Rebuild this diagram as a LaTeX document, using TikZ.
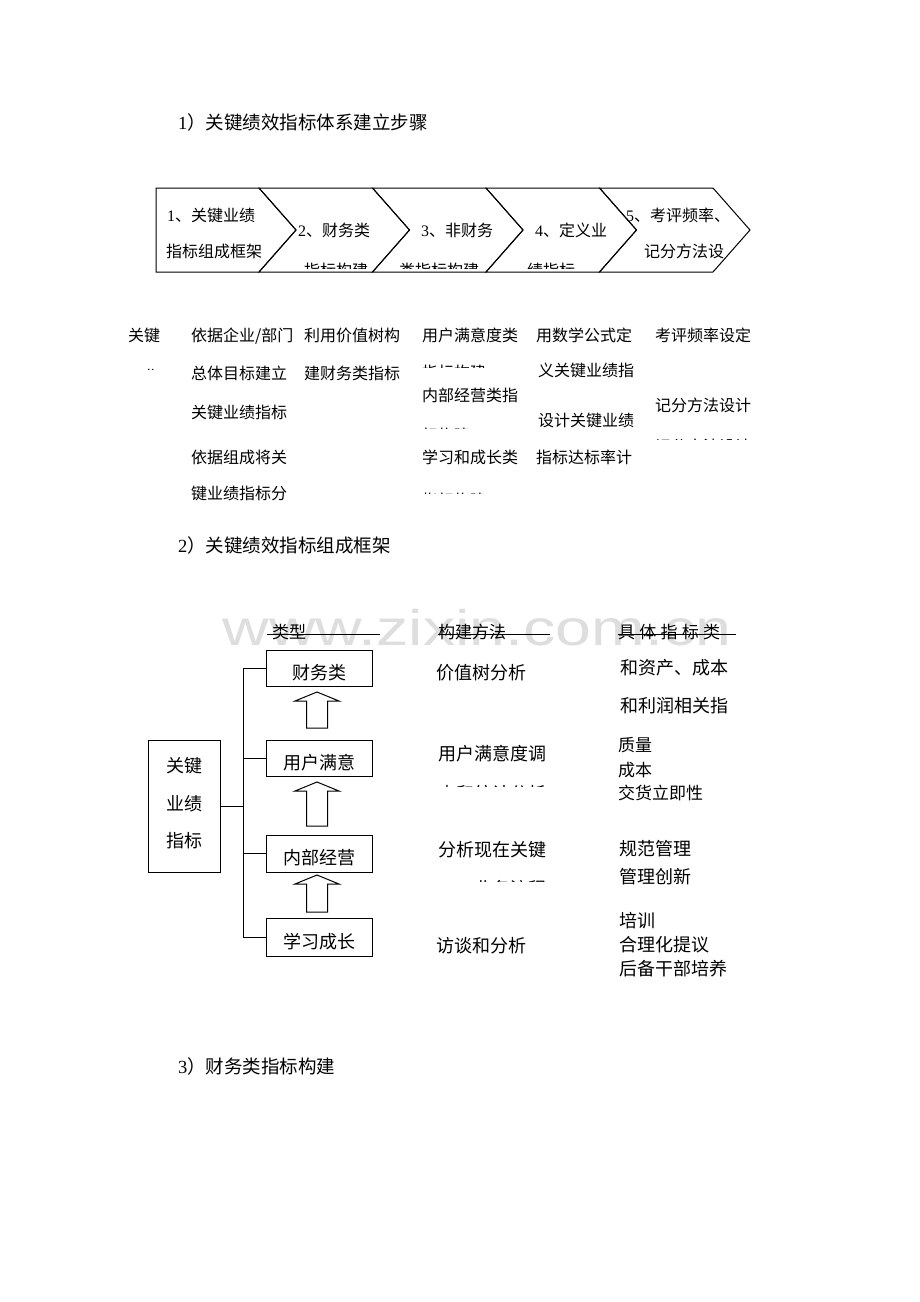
\documentclass[tikz,border=0pt]{standalone}
\usepackage{fontspec}
\setmainfont{Liberation Serif}
\newfontfamily\cjk{Noto Sans CJK SC}
\newfontfamily\cjkwide{Noto Sans CJK SC}[LetterSpace=25]
\newfontfamily\wmfont{Liberation Sans}
\newcommand\dg[1]{{\rmfamily #1}}
\newcommand\blockup[3]{\draw[ln] (#1,#2) -- (#1+22,#2+9) -- (#1+10.5,#2+9) -- (#1+10.5,#3) -- (#1-10.5,#3) -- (#1-10.5,#2+9) -- (#1-22,#2+9) -- cycle;}
\tikzset{
  ln/.style={line width=1pt, black, line join=miter},
  t16/.style={inner sep=0pt, anchor=base west, font=\cjk\fontsize{16pt}{19pt}\selectfont},
  t17/.style={inner sep=0pt, anchor=base west, font=\cjk\fontsize{17pt}{20pt}\selectfont},
  t18/.style={inner sep=0pt, anchor=base west, font=\cjk\fontsize{18pt}{21pt}\selectfont},
  ttl/.style={inner sep=0pt, anchor=base west, font=\cjk\fontsize{18.5pt}{22pt}\selectfont},
  kbox/.style={draw, line width=1pt, inner sep=0pt, minimum width=106pt, font=\cjk\fontsize{18pt}{21pt}\selectfont, text height=23.6pt, text depth=0pt},
}
\begin{document}
\begin{tikzpicture}[x=1pt,y=-1pt]
\useasboundingbox[fill=white] (0,0) rectangle (920,1302);

% titles
\node[ttl] (title1) at (178,129) {\dg{1}）关键绩效指标体系建立步骤};
\node[ttl] (title2) at (178,552) {\dg{2}）关键绩效指标组成框架};
\node[ttl] (title3) at (178,1073) {\dg{3}）财务类指标构建};

% chevron bar
\draw[ln] (156,188) -- (259,188) -- (296,230) -- (259,272) -- (156,272) -- cycle;
\draw[ln] (259,188) -- (372.5,188) -- (409.5,230) -- (372.5,272) -- (259,272) -- (296,230) -- cycle;
\draw[ln] (372.5,188) -- (486,188) -- (523,230) -- (486,272) -- (372.5,272) -- (409.5,230) -- cycle;
\draw[ln] (486,188) -- (599.5,188) -- (636.5,230) -- (599.5,272) -- (486,272) -- (523,230) -- cycle;
\draw[ln] (599.5,188) -- (713,188) -- (750,230) -- (713,272) -- (599.5,272) -- (636.5,230) -- cycle;

\node[t16] (c1a) at (167,221) {\dg{1}、关键业绩};
\node[t16] (c1b) at (166,257) {指标组成框架};
\node[t16] (c2a) at (298,236) {\dg{2}、财务类};
\node[t16] (c3a) at (421,236) {\dg{3}、非财务};
\node[t16] (c4a) at (535,236) {\dg{4}、定义业};
\node[t16] (c5a) at (626,221) {\dg{5}、考评频率、};
\node[t16] (c5b) at (644,257) {记分方法设};
\begin{scope}
\clip (150,240) rectangle (760,268);
\node[t16] (c2b) at (304,276) {指标构建};
\node[t16] (c3b) at (399,276) {类指标构建};
\node[t16] (c4b) at (527,276) {绩指标};
\end{scope}

% rows of work items
\node[t16] (r0a) at (128,341) {关键};
\begin{scope}\clip (120,350) rectangle (180,369);
\node[t16] (r0b) at (128,382) {工作};
\end{scope}
\node[t16] (r1a) at (191,341) {依据企业/部门};
\node[t16] (r1b) at (191,379) {总体目标建立};
\node[t16] (r1c) at (191,418) {关键业绩指标};
\node[t16] (r1d) at (191,463) {依据组成将关};
\node[t16] (r1e) at (191,499) {键业绩指标分};
\node[t16] (r2a) at (304,341) {利用价值树构};
\node[t16] (r2b) at (304,379) {建财务类指标};
\node[t16] (r3a) at (422,341) {用户满意度类};
\node[t16] (r3c) at (422,401) {内部经营类指};
\node[t16] (r3e) at (422,463) {学习和成长类};
\begin{scope}\clip (415,350) rectangle (530,367);
\node[t16] (r3b) at (422,378) {指标构建};
\end{scope}
\begin{scope}\clip (415,415) rectangle (530,428);
\node[t16] (r3d) at (422,441) {标构建};
\end{scope}
\begin{scope}\clip (415,480) rectangle (530,493);
\node[t16] (r3f) at (422,506) {指标构建};
\end{scope}
\node[t16] (r4a) at (536,341) {用数学公式定};
\node[t16] (r4b) at (538,376) {义关键业绩指};
\node[t16] (r4c) at (538,426) {设计关键业绩};
\node[t16] (r4d) at (536,463) {指标达标率计};
\node[t16] (r5a) at (655,341) {考评频率设定};
\node[t16] (r5b) at (655,411) {记分方法设计};
\begin{scope}\clip (650,425) rectangle (760,439);
\node[t16] (r5c) at (655,452) {记分方法设计};
\end{scope}

% watermark
\node[inner sep=0pt, anchor=base, text=black!13, font=\wmfont\fontsize{50pt}{50pt}\selectfont] (wmk) at (477,645) {\scalebox{1.29}[1]{www.zixin.com.cn}};

% headers
\node[t17] (h1) at (272,638) {类型};
\node[t17] (h2) at (438,638) {构建方法};
\node[inner sep=0pt, anchor=base west, font=\cjkwide\fontsize{17pt}{20pt}\selectfont] (h3) at (618,638) {具体指标类};
\draw[ln] (267,634) -- (380,634);
\draw[ln] (438,634) -- (550,634);
\draw[ln] (618,634) -- (736,634);

% left box
\node[draw, line width=1pt, minimum width=72pt, minimum height=132pt, inner sep=0pt] (L) at (184,806) {};
\node[t18, anchor=base] (L1) at (184,772.7) {关键};
\node[t18, anchor=base] (L2) at (184,810.7) {业绩};
\node[t18, anchor=base] (L3) at (184,847.7) {指标};

% category boxes
\node[kbox, minimum height=36pt] (b1) at (319,668) {财务类};
\node[kbox, minimum height=36pt] (b2) at (319,758) {用户满意};
\node[kbox, minimum height=37pt, text height=22.5pt] (b3) at (319,853.5) {内部经营};
\node[kbox, minimum height=38pt] (b4) at (319,937) {学习成长};

% tree connectors
\coordinate (tx) at (243,0);
\draw[ln] (b1.west -| tx) -- (b4.west -| tx);
\draw[ln] (L.east) -- (L.east -| tx);
\draw[ln] (b1.west -| tx) -- (b1.west);
\draw[ln] (b2.west -| tx) -- (b2.west);
\draw[ln] (b3.west -| tx) -- (b3.west);
\draw[ln] (b4.west -| tx) -- (b4.west);

% block arrows
\blockup{317}{692}{728}
\blockup{317}{782}{826}
\blockup{317}{875}{912}

% methods
\node[t18] (m1) at (436,679.7) {价值树分析};
\node[t18] (m2) at (438,760.7) {用户满意度调};
\begin{scope}\clip (430,775) rectangle (600,786);
\node[t18] (m2b) at (438,800) {查和统计分析};
\end{scope}
\node[t18] (m3) at (438,856.7) {分析现在关键};
\begin{scope}\clip (430,870) rectangle (600,881);
\node[t18] (m3b) at (474,895) {业务流程};
\end{scope}
\node[t18] (m4) at (436,952.7) {访谈和分析};

% indicators
\node[t18] (k1a) at (620,674.7) {和资产、成本};
\node[t18] (k1b) at (620,712.7) {和利润相关指};
\node[t17] (k2a) at (618,751.3) {质量};
\node[t17] (k2b) at (618,776.3) {成本};
\node[t17] (k2c) at (618,799.3) {交货立即性};
\node[t18] (k3a) at (619,855.7) {规范管理};
\node[t18] (k3b) at (619,883.7) {管理创新};
\node[t18] (k4a) at (619,927.7) {培训};
\node[t18] (k4b) at (619,951.7) {合理化提议};
\node[t18] (k4c) at (619,975.7) {后备干部培养};
\end{tikzpicture}
\end{document}
